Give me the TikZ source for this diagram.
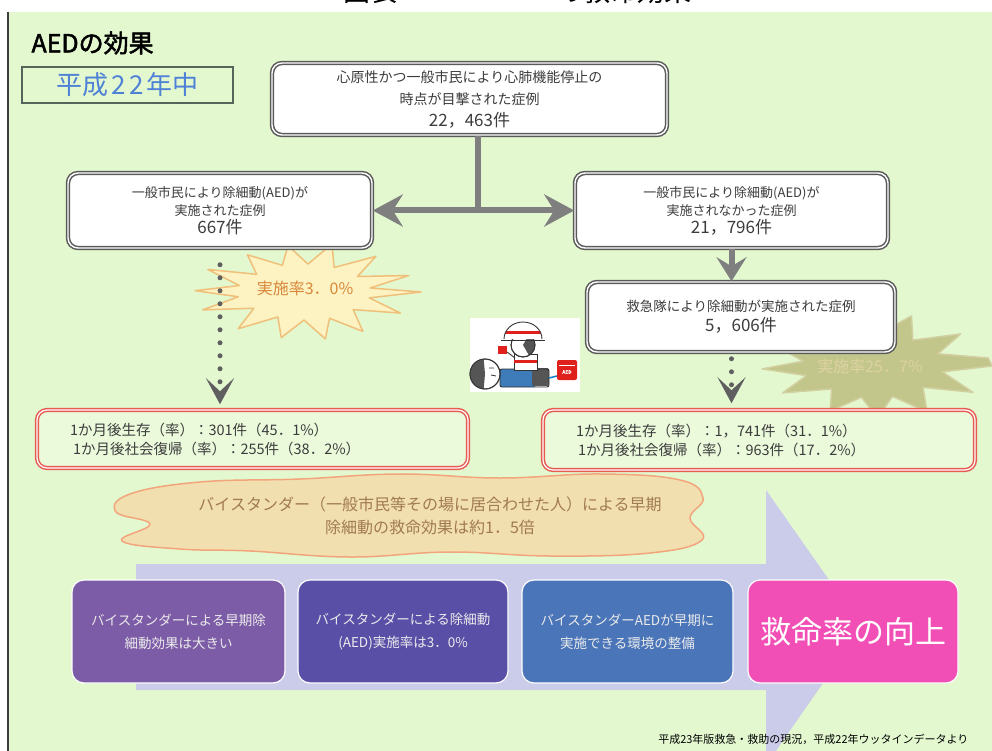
\documentclass[tikz,border=0pt]{standalone}
\usepackage{fontspec}
\setmainfont{Noto Sans CJK JP}[AutoFakeBold=2]
\usetikzlibrary{arrows.meta}

\definecolor{bggreen}{HTML}{E3F8CF}
\definecolor{boxgray}{HTML}{5A5A5A}
\definecolor{txtgray}{HTML}{3C3C3C}
\definecolor{arrowgray}{HTML}{7F7F7F}
\definecolor{dotgray}{HTML}{5F5F5F}
\definecolor{redline}{HTML}{E65A52}
\definecolor{resfill}{HTML}{ECFADC}
\definecolor{cloudfill}{HTML}{F2DFB0}
\definecolor{cloudline}{HTML}{F2A57C}
\definecolor{cloudtext}{HTML}{A07A50}
\definecolor{burstAfill}{HTML}{FCF2C2}
\definecolor{burstAline}{HTML}{F0C07A}
\definecolor{burstAtext}{HTML}{D8883A}
\definecolor{burstBfill}{HTML}{C3C68B}
\definecolor{burstBline}{HTML}{D2CFA0}
\definecolor{burstBtext}{HTML}{DCD2A2}
\definecolor{bandcol}{HTML}{CBCBEA}
\definecolor{stepA}{HTML}{7D5CA7}
\definecolor{stepB}{HTML}{5A4FA7}
\definecolor{stepC}{HTML}{4A75B9}
\definecolor{stepD}{HTML}{F24FB6}
\definecolor{yearblue}{HTML}{4F82D6}
\definecolor{framegreen}{HTML}{56655A}
\definecolor{aedred}{HTML}{E0201C}
\definecolor{suitblue}{HTML}{3D7CB8}
\definecolor{hairgray}{HTML}{555555}

\newcommand\fsz[2]{\fontsize{#1}{#2}\selectfont}

\tikzset{
  wbox/.style={draw=boxgray, double=white, double distance=1.4pt, line width=1.5pt,
    rounded corners=10pt, fill=white, text=txtgray, align=center, inner sep=0pt},
  rbox/.style={draw=redline, double=white, double distance=1.2pt, line width=1.5pt,
    rounded corners=10pt, fill=resfill, text=txtgray, align=left,
    inner xsep=33pt, inner ysep=0pt, font=\fsz{14.5}{19}},
  stepbox/.style={draw=white, line width=1.2pt, rounded corners=12pt,
    minimum width=211pt, minimum height=103pt, align=center, inner sep=0pt,
    text=white!92!black, font=\fsz{13.5}{23}},
  conn/.style={draw=arrowgray, line width=6pt},
  bighead/.tip={Stealth[length=30pt,width=32pt,inset=10pt]},
  midhead/.tip={Stealth[length=24pt,width=30pt,inset=9pt]},
  vhead/.tip={Stealth[length=26pt,width=28pt,inset=13pt]},
  dotline/.style={draw=dotgray, line width=5pt, line cap=round, dash pattern=on 0pt off 13pt},
  burstA/.style={fill=burstAfill, draw=burstAline, line width=1.5pt, line join=round},
  burstB/.style={fill=burstBfill, draw=burstBline, line width=1.5pt, line join=round},
  ink/.style={draw=black!80, line width=0.9pt},
}

\begin{document}
\begin{tikzpicture}[x=1pt,y=-1pt]
\useasboundingbox (0,0) rectangle (992,751);
\clip (0,0) rectangle (992,751);

% page heading, mostly hidden above the slide
\fill[white] (0,0) rectangle (992,751);
\node[anchor=base, font=\fsz{27}{30}, text=black] (hd1) at (370,2) {図表};
\node[anchor=base west, font=\fsz{27}{30}, text=black] (hd2) at (553,2) {の救命効果};

% slide background
\fill[bggreen] (8,12) rectangle (992,751);
\draw[line width=2pt, color=txtgray] (8,12) -- (8,751);

% large arrow behind the bottom steps
\fill[bandcol] (136,564) -- (766,564) -- (766,490) -- (862,627) -- (766,765)
  -- (766,690) -- (136,690) -- cycle;

% cloud with the summary
\draw[fill=cloudfill, draw=cloudline, line width=1.5pt]
  plot[smooth cycle, tension=0.7] coordinates {(130,494) (200,482) (300,479) (400,474)
  (500,478) (600,474) (680,480) (703,498) (690,518) (702,540) (650,553) (550,556)
  (450,552) (350,557) (250,551) (180,549) (122,541) (150,524) (116,512)};

% starbursts
\draw[burstA, shift={(305,292)}] (0:116 and 40) -- (13:66 and 26) -- (26:106 and 48)
  -- (39:62 and 28) -- (52:94 and 50) -- (65:58 and 29) -- (78:98 and 48)
  -- (91:58 and 28) -- (104:98 and 47) -- (117:60 and 28) -- (130:104 and 48)
  -- (143:64 and 27) -- (156:112 and 44) -- (169:68 and 25) -- (182:110 and 38)
  -- (195:68 and 25) -- (208:110 and 48) -- (221:64 and 27) -- (234:98 and 46)
  -- (247:58 and 29) -- (260:98 and 47) -- (273:58 and 28) -- (286:98 and 50)
  -- (299:60 and 28) -- (312:106 and 48) -- (325:64 and 27) -- (338:112 and 44)
  -- (351:66 and 26) -- cycle;
\draw[burstB, shift={(874,366)}] (0:118 and 44) -- (12:70 and 28) -- (28:112 and 56)
  -- (42:66 and 32) -- (58:100 and 54) -- (72:60 and 32) -- (88:96 and 52)
  -- (102:60 and 32) -- (116:100 and 50) -- (130:66 and 30) -- (146:110 and 48)
  -- (160:72 and 28) -- (176:112 and 42) -- (190:72 and 28) -- (204:108 and 50)
  -- (218:66 and 32) -- (232:100 and 56) -- (246:60 and 33) -- (262:96 and 54)
  -- (276:60 and 33) -- (292:100 and 54) -- (306:66 and 32) -- (322:110 and 52)
  -- (336:70 and 30) -- (350:116 and 46) -- cycle;

% title and year
\node[anchor=west, font=\fsz{25}{28}\bfseries, text=black] (title) at (28,43) {AEDの効果};
\node[draw=framegreen, line width=1.3pt, minimum width=211pt, minimum height=36pt,
  inner sep=0pt, text=yearblue, font=\fsz{26}{28}] (year) at (127.5,85)
  {平成\hspace{3pt}2\hspace{4pt}2\hspace{3pt}年中};

% flow boxes
\node[wbox, minimum width=395pt, minimum height=72pt, font=\fsz{14}{22}] (top) at (469.5,99)
  {心原性かつ一般市民により心肺機能停止の\\時点が目撃された症例\\{\fsz{17}{22}22，463件}};
\node[wbox, minimum width=304pt, minimum height=75pt, font=\fsz{13}{18}] (lbox) at (220,210.5)
  {一般市民により除細動(AED)が\\実施された症例\\{\fsz{17}{18}667件}};
\node[wbox, minimum width=313pt, minimum height=75pt, font=\fsz{13}{18}] (rbox) at (731.5,210.5)
  {一般市民により除細動(AED)が\\実施されなかった症例\\{\fsz{17}{18}21，796件}};
\node[wbox, minimum width=308pt, minimum height=70pt, font=\fsz{13.5}{20}] (ems) at (741,317)
  {救急隊により除細動が実施された症例\\{\fsz{17}{20}5，606件}};

% outcome boxes
\node[rbox, text width=365pt, minimum height=58pt] (lres) at (252.5,439)
  {1か月後生存（率）：301件（45．1\%）\\\hspace*{3pt}1か月後社会復帰（率）：255件（38．2\%）};
\node[rbox, text width=366pt, minimum height=60pt] (rres) at (759,440)
  {1か月後生存（率）：1，741件（31．1\%）\\\hspace*{2pt}1か月後社会復帰（率）：963件（17．2\%）};

% burst labels
\node[text=burstAtext, font=\fsz{16}{18}] (rateA) at (305,288) {実施率3．0\%};
\node[text=burstBtext, font=\fsz{16}{18}] (rateB) at (870,366) {実施率25．7\%};

% cloud label
\node[text=cloudtext, font=\fsz{16}{23}, align=center] (summary) at (430,516)
  {バイスタンダー（一般市民等その場に居合わせた人）による早期\\除細動の救命効果は約1．5倍};

% steps toward the goal
\node[stepbox, fill=stepA, minimum width=213pt] (s1) at (178.5,631.5)
  {バイスタンダーによる早期除\\細動効果は大きい};
\node[stepbox, fill=stepB, minimum width=210pt] (s2) at (403,631.5)
  {バイスタンダーによる除細動\\(AED)実施率は3．0\%};
\node[stepbox, fill=stepC] (s3) at (627.5,631.5)
  {バイスタンダーAEDが早期に\\実施できる環境の整備};
\node[stepbox, fill=stepD, minimum width=210pt, font=\fsz{31}{34}, text=white] (s4) at (853,631.5)
  {救命率の向上};

% connectors
\coordinate (split) at (478,210.5);
\draw[conn] (top.south -| split) -- (split);
\draw[conn, bighead-bighead] (lbox.east) -- (rbox.west);
\draw[conn, -midhead] (rbox.south) -- (ems.north -| rbox.south);
\draw[dotline, -vhead, shorten <=16pt, shorten >=5pt] (lbox.south) -- (lres.north -| lbox.south);
\draw[dotline, -vhead, shorten <=6pt, shorten >=6pt] (ems.south -| rbox.south) -- (rres.north -| rbox.south);

% rescuer giving defibrillation with an AED
\fill[white] (470,318) rectangle (580,392);
% patient: blue clothes, dark trousers
\fill[suitblue, rounded corners=2pt] (500,369) rectangle (536,387);
\fill[hairgray, rounded corners=2pt] (532,368) rectangle (549,386);
\draw[ink, rounded corners=2pt] (500,369) rectangle (549,387);
% patient head
\draw[ink, fill=white] (485,374) circle (15);
\fill[hairgray] (485,374) -- ++(95:15) arc[start angle=95, end angle=265, radius=15] -- cycle;
\draw[ink] (485,374) circle (15);
\draw[black!80, line width=0.8pt] (489,368) -- (494,368) (491,375) -- (496,376);
% rescuer body
\draw[ink, fill=white] (514,354) rectangle (537,370);
\fill[aedred] (514,360) rectangle (537,363);
% rescuer hands with pad
\fill[aedred] (498,346) rectangle (507,354);
\draw[ink] (507,352) -- (515,358);
% rescuer face and hair
\draw[ink, fill=white] (523,345) circle (12);
\fill[hairgray] (523,345) -- ++(-60:12) arc[start angle=-60, end angle=60, radius=12] -- cycle;
\draw[ink] (523,345) circle (12);
% helmet with red band
\begin{scope}
  \clip (504,339) arc[start angle=180, end angle=360, x radius=19, y radius=17] -- cycle;
  \fill[white] (500,318) rectangle (546,340);
  \fill[aedred] (500,331) rectangle (546,334);
\end{scope}
\draw[ink] (504,339) arc[start angle=180, end angle=360, x radius=19, y radius=17];
\draw[ink] (501,340) -- (545,340);
% cable and AED unit
\draw[cyan!60!blue, line width=1.5pt] (549,378) -- (557,376);
\fill[aedred, rounded corners=2pt] (557,360) rectangle (577,380);
\draw[white, line width=0.6pt] (559,365) -- (575,365);
\node[text=white, font=\fsz{5}{6}\bfseries, inner sep=0pt] (aed) at (567,372) {AED};

% source note
\node[anchor=east, text=black, font=\fsz{11}{12}] (src) at (972,739)
  {平成23年版救急・救助の現況，平成22年ウッタインデータより};
\end{tikzpicture}
\end{document}
